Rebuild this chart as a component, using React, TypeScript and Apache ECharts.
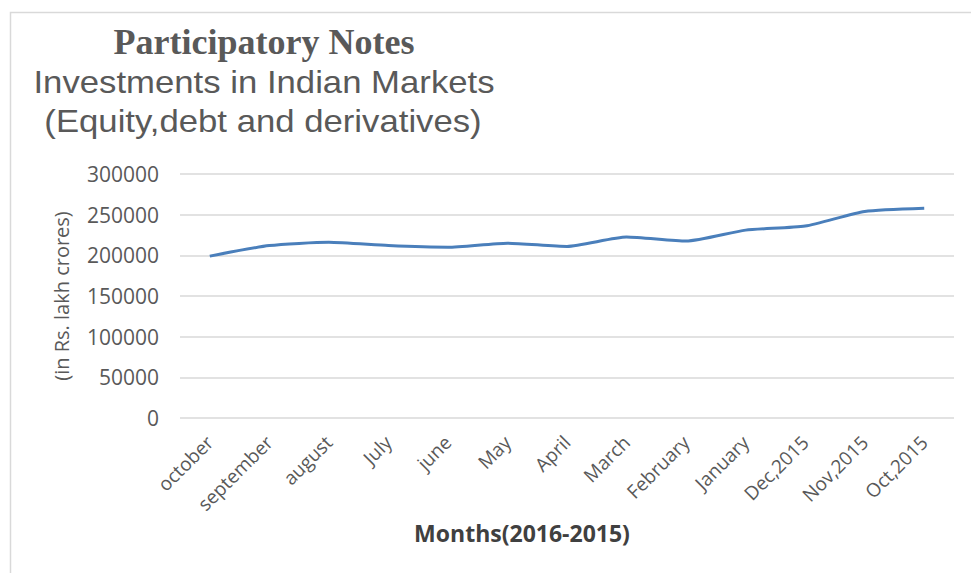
import React, { useEffect, useRef } from "react";
import * as echarts from "echarts";

const months = [
  "october", "september", "august", "July", "june", "May", "April",
  "March", "February", "January", "Dec,2015", "Nov,2015", "Oct,2015",
];
const investments = [
  199000, 212000, 216000, 212000, 210000, 215000, 211000,
  222500, 217500, 231000, 236000, 254000, 258000,
];
const yTicks = { min: 0, max: 300000, interval: 50000 };

const titleLines = ["Participatory Notes", "Investments in Indian Markets", "(Equity,debt and derivatives)"];
const yAxisName = "(in Rs. lakh crores)";
const xAxisName = "Months(2016-2015)";

export default function App() {
  const ref = useRef<HTMLDivElement>(null);
  useEffect(() => {
    if (!ref.current) return;
    const chart = echarts.init(ref.current, null, { renderer: "svg" });
    const sans = "'Open Sans', 'Noto Sans', sans-serif";
    const titleSans = "'Liberation Sans', Arial, sans-serif";
    chart.setOption({
      animation: false,
      backgroundColor: "#ffffff",
      graphic: [
        {
          type: "rect",
          shape: { x: 10.5, y: 12.5, width: 1000, height: 700 },
          style: { fill: "none", stroke: "#d9d9d9", lineWidth: 1.5 },
          silent: true,
        },
        {
          type: "text",
          x: 264, y: 42,
          style: {
            text: titleLines[0], fill: "#595959",
            font: "bold 36px 'Liberation Serif', 'Times New Roman', serif",
            lineHeight: 34,
            align: "center", verticalAlign: "middle",
          },
        },
        {
          type: "text",
          x: 264, y: 82, scaleX: 1.12,
          style: {
            text: titleLines[1], fill: "#595959",
            font: "31px " + titleSans,
            lineHeight: 32,
            align: "center", verticalAlign: "middle",
          },
        },
        {
          type: "text",
          x: 263, y: 121, scaleX: 1.12,
          style: {
            text: titleLines[2], fill: "#595959",
            font: "31px " + titleSans,
            lineHeight: 32,
            align: "center", verticalAlign: "middle",
          },
        },
        {
          type: "text",
          x: 522, y: 533,
          style: {
            text: xAxisName, fill: "#404040",
            font: "bold 23px " + sans,
            align: "center", verticalAlign: "middle",
          },
        },
      ],
      grid: { left: 180, right: 17, top: 174, bottom: 155, containLabel: false },
      xAxis: {
        type: "category",
        data: months,
        boundaryGap: true,
        axisLine: { show: false },
        axisTick: { show: false },
        axisLabel: {
          rotate: 45, color: "#595959", fontSize: 19, margin: 21,
          fontFamily: sans, interval: 0,
        },
      },
      yAxis: {
        type: "value",
        min: yTicks.min, max: yTicks.max, interval: yTicks.interval,
        axisLine: { show: false },
        axisTick: { show: false },
        splitLine: { lineStyle: { color: "#d9d9d9", width: 1.5 } },
        axisLabel: {
          color: "#595959", fontSize: 21, margin: 21,
          fontFamily: sans,
          formatter: (v: number) => String(v),
        },
        name: yAxisName,
        nameLocation: "middle",
        nameGap: 109,
        nameRotate: 90,
        nameTextStyle: {
          color: "#595959", fontSize: 20,
          fontFamily: sans,
        },
      },
      series: [
        {
          type: "line",
          data: investments,
          smooth: 0.2,
          showSymbol: false,
          lineStyle: { color: "#4a7fbb", width: 3 },
          itemStyle: { color: "#4a7fbb" },
        },
      ],
    });
    return () => chart.dispose();
  }, []);
  return (
    <div
      ref={ref}
      style={{ position: "absolute", left: 0, top: 0, width: 971, height: 573 }}
    />
  );
}
